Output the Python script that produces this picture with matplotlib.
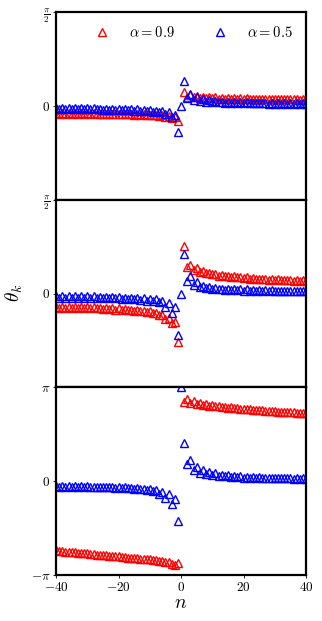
import numpy as np
import matplotlib
matplotlib.use("Agg")
import matplotlib.pyplot as plt

plt.rcParams['mathtext.fontset'] = 'cm'
plt.rcParams['font.family'] = ['DejaVu Serif']

n = list(range(-40, 41))

# Panel 1 (top)
p1_red_left = [-0.12,-0.13,-0.12,-0.13,-0.12,-0.13,-0.12,-0.13,-0.12,-0.13,
               -0.12,-0.13,-0.12,-0.13,-0.13,-0.14,-0.13,-0.14,-0.13,-0.14,
               -0.13,-0.14,-0.13,-0.14,-0.14,-0.15,-0.14,-0.15,-0.14,-0.15,
               -0.15,-0.16,-0.15,-0.17,-0.16,-0.18,-0.17,-0.21,-0.19,-0.26]
p1_red_zero = float('nan')
p1_red_right = [0.23,0.15,0.18,0.14,0.16,0.13,0.15,0.13,0.14,0.13,
                0.14,0.12,0.13,0.12,0.13,0.12,0.13,0.12,0.13,0.12,
                0.13,0.12,0.12,0.11,0.12,0.11,0.12,0.11,0.12,0.11,
                0.12,0.11,0.12,0.11,0.12,0.11,0.11,0.10,0.11,0.10]
p1_blue_left = [-0.04,-0.06,-0.04,-0.06,-0.04,-0.06,-0.04,-0.06,-0.04,-0.06,
                -0.04,-0.06,-0.04,-0.06,-0.05,-0.07,-0.05,-0.07,-0.05,-0.07,
                -0.05,-0.07,-0.05,-0.07,-0.06,-0.08,-0.06,-0.08,-0.07,-0.09,
                -0.07,-0.10,-0.08,-0.11,-0.09,-0.13,-0.11,-0.19,-0.15,-0.43]
p1_blue_zero = -0.01
p1_blue_right = [0.42,0.13,0.19,0.10,0.14,0.08,0.11,0.07,0.09,0.06,
                 0.08,0.06,0.07,0.05,0.07,0.05,0.06,0.05,0.06,0.04,
                 0.06,0.04,0.05,0.04,0.05,0.04,0.05,0.03,0.05,0.03,
                 0.04,0.03,0.04,0.03,0.04,0.03,0.04,0.03,0.04,0.03]

# Panel 2 (middle)
p2_red_left = [-0.22,-0.24,-0.22,-0.24,-0.22,-0.24,-0.22,-0.24,-0.23,-0.25,
               -0.23,-0.25,-0.23,-0.25,-0.24,-0.26,-0.24,-0.26,-0.25,-0.27,
               -0.25,-0.27,-0.26,-0.28,-0.27,-0.29,-0.28,-0.30,-0.29,-0.31,
               -0.30,-0.33,-0.32,-0.36,-0.36,-0.42,-0.41,-0.50,-0.47,-0.82]
p2_red_zero = float('nan')
p2_red_right = [0.80,0.45,0.48,0.40,0.42,0.36,0.38,0.34,0.35,0.32,
                0.33,0.30,0.31,0.29,0.30,0.28,0.29,0.27,0.28,0.26,
                0.27,0.25,0.26,0.25,0.25,0.24,0.25,0.23,0.24,0.23,
                0.24,0.22,0.23,0.22,0.23,0.21,0.22,0.21,0.22,0.21]
p2_blue_left = [-0.05,-0.07,-0.05,-0.07,-0.05,-0.07,-0.05,-0.07,-0.05,-0.07,
                -0.05,-0.07,-0.05,-0.07,-0.06,-0.08,-0.06,-0.08,-0.06,-0.08,
                -0.06,-0.09,-0.07,-0.09,-0.07,-0.10,-0.08,-0.11,-0.08,-0.12,
                -0.09,-0.13,-0.10,-0.15,-0.12,-0.22,-0.16,-0.33,-0.23,-0.69]
p2_blue_zero = 0.0
p2_blue_right = [0.66,0.21,0.30,0.15,0.19,0.11,0.13,0.09,0.11,0.08,
                 0.09,0.07,0.08,0.06,0.08,0.06,0.07,0.06,0.07,0.05,
                 0.07,0.05,0.06,0.05,0.06,0.05,0.06,0.05,0.06,0.05,
                 0.05,0.04,0.05,0.04,0.05,0.04,0.05,0.04,0.05,0.04]

# Panel 3 (bottom)
p3_red_left = [-2.32,-2.34,-2.34,-2.36,-2.36,-2.38,-2.38,-2.40,-2.40,-2.42,
               -2.42,-2.44,-2.44,-2.46,-2.46,-2.48,-2.48,-2.50,-2.50,-2.52,
               -2.52,-2.54,-2.54,-2.56,-2.56,-2.58,-2.58,-2.60,-2.60,-2.62,
               -2.62,-2.65,-2.65,-2.68,-2.68,-2.72,-2.71,-2.77,-2.81,-2.74]
p3_red_zero = float('nan')
p3_red_right = [2.65,2.74,2.62,2.68,2.58,2.62,2.55,2.58,2.52,2.54,
                2.50,2.51,2.48,2.49,2.46,2.47,2.44,2.45,2.42,2.43,
                2.41,2.41,2.39,2.39,2.38,2.38,2.36,2.36,2.35,2.35,
                2.33,2.33,2.32,2.32,2.30,2.30,2.29,2.29,2.27,2.27]
p3_blue_left = [-0.16,-0.18,-0.16,-0.18,-0.16,-0.18,-0.17,-0.19,-0.17,-0.19,
                -0.17,-0.19,-0.18,-0.20,-0.18,-0.20,-0.19,-0.21,-0.19,-0.22,
                -0.20,-0.22,-0.21,-0.23,-0.22,-0.25,-0.23,-0.26,-0.25,-0.28,
                -0.27,-0.33,-0.30,-0.42,-0.36,-0.55,-0.44,-0.75,-0.61,-1.35]
p3_blue_zero = 3.14
p3_blue_right = [1.29,0.56,0.70,0.37,0.48,0.28,0.39,0.24,0.31,0.20,
                 0.26,0.18,0.22,0.16,0.19,0.14,0.17,0.13,0.16,0.12,
                 0.15,0.11,0.14,0.11,0.13,0.10,0.12,0.10,0.12,0.09,
                 0.11,0.09,0.11,0.09,0.10,0.08,0.10,0.08,0.10,0.08]

labels = [r'$\alpha=0.9$', r'$\alpha=0.5$']

panels = [
    (p1_red_left + [p1_red_zero] + p1_red_right, p1_blue_left + [p1_blue_zero] + p1_blue_right),
    (p2_red_left + [p2_red_zero] + p2_red_right, p2_blue_left + [p2_blue_zero] + p2_blue_right),
    (p3_red_left + [p3_red_zero] + p3_red_right, p3_blue_left + [p3_blue_zero] + p3_blue_right),
]

fig = plt.figure(figsize=(3.22, 6.21), dpi=100)
L, R = 56/322, 306/322
top_px, bot_px = 12, 575
h = (bot_px - top_px) / 3 / 621
axes = []
for i in range(3):
    y0 = 1 - (top_px / 621) - (i + 1) * h
    axes.append(fig.add_axes([L, y0, R - L, h]))

mk = dict(marker='^', linestyle='none', markersize=5.2, markerfacecolor='none',
          markeredgewidth=1.0)
for i, (ax, (red, blue)) in enumerate(zip(axes, panels)):
    ax.plot(n, red, color='red', label=labels[0], **mk)
    ax.plot(n, blue, color='blue', label=labels[1], **mk)
    ax.set_xlim(-40, 40)
    for s in ax.spines.values():
        s.set_linewidth(1.6)
    ax.tick_params(direction='out', length=2, width=0.6, labelsize=9.5, pad=2)
    if i < 2:
        ax.set_ylim(-np.pi/2, np.pi/2)
        ax.set_yticks([0, np.pi/2])
        ax.set_yticklabels([r'$0$', r'$\frac{\pi}{2}$'])
        ax.set_xticks([])
    else:
        ax.set_ylim(-np.pi, np.pi)
        ax.set_yticks([-np.pi, 0, np.pi])
        ax.set_yticklabels([r'$-\pi$', r'$0$', r'$\pi$'])
        ax.set_xticks([-40, -20, 0, 20, 40])
        ax.set_xticklabels([r'$-40$', r'$-20$', r'$0$', r'$20$', r'$40$'])
        ax.set_xlabel(r'$n$', fontsize=14, labelpad=0)

axes[0].legend(loc='upper right', ncol=2, frameon=False, fontsize=10.5,
               handlelength=2.0, handletextpad=0.85, columnspacing=2.1,
               borderaxespad=0.5, bbox_to_anchor=(1.0, 1.0))
fig.text(14/322, 1 - 293/621, r'$\theta_k$', fontsize=14, rotation=90,
         ha='center', va='center')

fig.savefig('out.png', dpi=100)
